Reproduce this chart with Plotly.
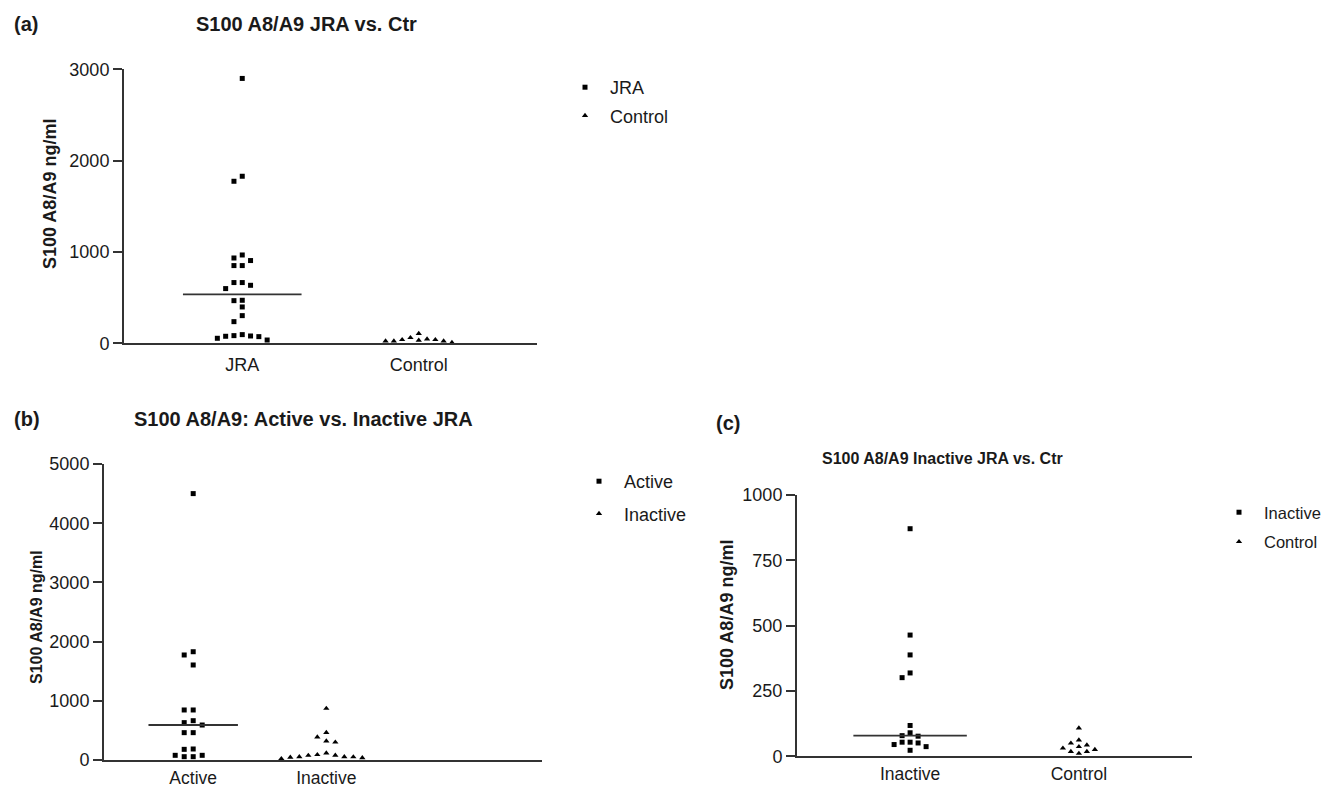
import numpy as np
import plotly.graph_objects as go

# ---------------- data ----------------
cats_a = ["JRA", "Control"]
jra_a = [2900, 1829, 1774, 967, 934, 906, 851, 851, 665, 665, 635, 599,
         471, 467, 398, 303, 237, 95, 84, 80, 77, 73, 55, 36]
control_a = [106, 62, 47, 40, 40, 33, 25, 25, 25, 8]

cats_b = ["Active", "Inactive"]
active_b = [4500, 1829, 1774, 1605, 845, 845, 664, 631, 591, 462, 462,
            186, 180, 79, 79, 56, 56]
inactive_b = [871, 464, 388, 319, 301, 118, 90, 79, 77, 54, 54, 51, 45, 37, 23]

cats_c = ["Inactive", "Control"]
inactive_c = [871, 464, 388, 319, 301, 118, 90, 79, 77, 54, 54, 51, 45, 37, 23]
control_c = [108, 62, 50, 43, 37, 31, 26, 18, 18, 11]

ticks_a = [0, 1000, 2000, 3000]
ticks_b = [0, 1000, 2000, 3000, 4000, 5000]
ticks_c = [0, 250, 500, 750, 1000]

titles = ["S100 A8/A9 JRA vs. Ctr", "S100 A8/A9: Active vs. Inactive JRA",
          "S100 A8/A9 Inactive JRA vs. Ctr"]
ylabel = "S100 A8/A9 ng/ml"

# ---------------- layout geometry (pixels) ----------------
W, H = 1327, 788
FONT = "Liberation Sans, Arial, sans-serif"
INK = "#1a1a1a"
AX = "#333333"

panels = {
    "a": dict(l=124, r=537, t=69.3, b=343.3, xr=[0.33, 2.67], yr=[0, 3000], std=4),
    "b": dict(l=104, r=542, t=464, b=760, xr=[0.33, 3.62], yr=[0, 5000], std=1),
    "c": dict(l=797, r=1192, t=495, b=756.3, xr=[0.33, 2.67], yr=[0, 1000], std=1),
}


def px_x(p):
    return p / W


def px_y(p):
    return 1 - p / H


def swarm(values, center, key, step_px, min_dy_px):
    """Simple dot-plot (beeswarm) layout computed from the data values."""
    g = panels[key]
    ppu = (g["b"] - g["t"]) / (g["yr"][1] - g["yr"][0])
    ppc = (g["r"] - g["l"]) / (g["xr"][1] - g["xr"][0])
    vals = np.asarray(values, dtype=float)
    xs = np.zeros(len(vals))
    placed = []
    for i in np.argsort(-vals, kind="stable"):
        ypx = vals[i] * ppu
        k = 0
        while True:
            slot = 0 if k == 0 else ((k + 1) // 2) * (-1 if k % 2 else 1)
            if all(not (s == slot and abs(yy - ypx) < min_dy_px) for s, yy in placed):
                break
            k += 1
        placed.append((slot, ypx))
        xs[i] = center + slot * step_px / ppc
    return xs


fig = go.Figure()

series = [
    # key, name, values, center, symbol, legend, axis suffix, median?
    ("a", "JRA", jra_a, 1, "square", "legend", "", True),
    ("a", "Control", control_a, 2, "triangle-up", "legend", "", False),
    ("b", "Active", active_b, 1, "square", "legend2", "2", True),
    ("b", "Inactive", inactive_b, 2, "triangle-up", "legend2", "2", False),
    ("c", "Inactive", inactive_c, 1, "square", "legend3", "3", True),
    ("c", "Control", control_c, 2, "triangle-up", "legend3", "3", False),
]

step = {"a": 8.3, "b": 9.0, "c": 8.0}
for key, name, vals, cen, sym, leg, ax, med in series:
    xs = swarm(vals, cen, key, step[key], 6.5)
    fig.add_trace(go.Scatter(
        x=xs, y=vals, mode="markers", name=name,
        marker=dict(symbol=sym, size=5 if sym == "square" else 5.5, color="black",
                    line=dict(width=0)),
        xaxis="x" + ax, yaxis="y" + ax, legend=leg, legendgroup=key + name,
        cliponaxis=False, hoverinfo="x+y",
    ))
    if med:
        m = float(np.median(vals))
        fig.add_trace(go.Scatter(
            x=[cen - 0.336, cen + 0.336], y=[m, m], mode="lines",
            line=dict(color="#333333", width=1.8), showlegend=False,
            xaxis="x" + ax, yaxis="y" + ax, hoverinfo="skip",
        ))

layout = dict(
    width=W, height=H, margin=dict(l=0, r=0, t=0, b=0, autoexpand=False),
    paper_bgcolor="white", plot_bgcolor="white",
    font=dict(family=FONT, color=INK, size=18),
    showlegend=True,
)

axis_map = {"a": ("", cats_a, ticks_a), "b": ("2", cats_b, ticks_b), "c": ("3", cats_c, ticks_c)}
for key, (suf, cats, ticks) in axis_map.items():
    g = panels[key]
    layout["xaxis" + suf] = dict(
        domain=[px_x(g["l"]), px_x(g["r"])], range=g["xr"], anchor="y" + suf,
        showgrid=False, zeroline=False, showline=True, linecolor=AX, linewidth=2,
        ticks="", tickvals=[1, 2], ticktext=cats,
        tickfont=dict(size=18 if key == "a" else 17.5),
        ticklabelstandoff=g["std"], fixedrange=True, automargin=False,
    )
    layout["yaxis" + suf] = dict(
        domain=[px_y(g["b"]), px_y(g["t"])], range=g["yr"], anchor="x" + suf,
        showgrid=False, zeroline=False, showline=True, linecolor=AX, linewidth=2,
        ticks="outside", ticklen=9, tickwidth=1.5, tickcolor=AX,
        tickvals=ticks, tickfont=dict(size=18), fixedrange=True, automargin=False,
    )

leg_common = dict(bgcolor="rgba(0,0,0,0)", traceorder="grouped",
                  xanchor="left", yanchor="top", itemsizing="trace", itemwidth=40)
layout["legend"] = dict(leg_common, x=px_x(560), y=px_y(69), tracegroupgap=2,
                        font=dict(size=18))
layout["legend2"] = dict(leg_common, x=px_x(574), y=px_y(463), tracegroupgap=6,
                         font=dict(size=18))
layout["legend3"] = dict(leg_common, x=px_x(1214), y=px_y(495), tracegroupgap=5,
                         font=dict(size=16.5))

ann = []


def text(x, y, s, size, bold=False, angle=0, xanchor="center"):
    ann.append(dict(x=px_x(x), y=px_y(y), xref="paper", yref="paper", text=s,
                    showarrow=False, textangle=angle, xanchor=xanchor, yanchor="middle",
                    font=dict(size=size, family=FONT, color=INK,
                              weight="bold" if bold else "normal")))


text(26, 24, "(a)", 20, True)
text(306, 24, titles[0], 20, True)
text(27, 419, "(b)", 20, True)
text(303, 419, titles[1], 20, True)
text(728, 423, "(c)", 20, True)
text(942, 458, titles[2], 16, True)
text(50, 194, ylabel, 18, True, -90)
text(36, 617, ylabel, 16, True, -90)
text(727, 615, ylabel, 18, True, -90)
layout["annotations"] = ann

fig.update_layout(**layout)
fig.write_html(
    "out.html",
    config={"displayModeBar": False},
    post_script="document.body.style.margin='0';document.body.style.overflow='hidden';",
)
